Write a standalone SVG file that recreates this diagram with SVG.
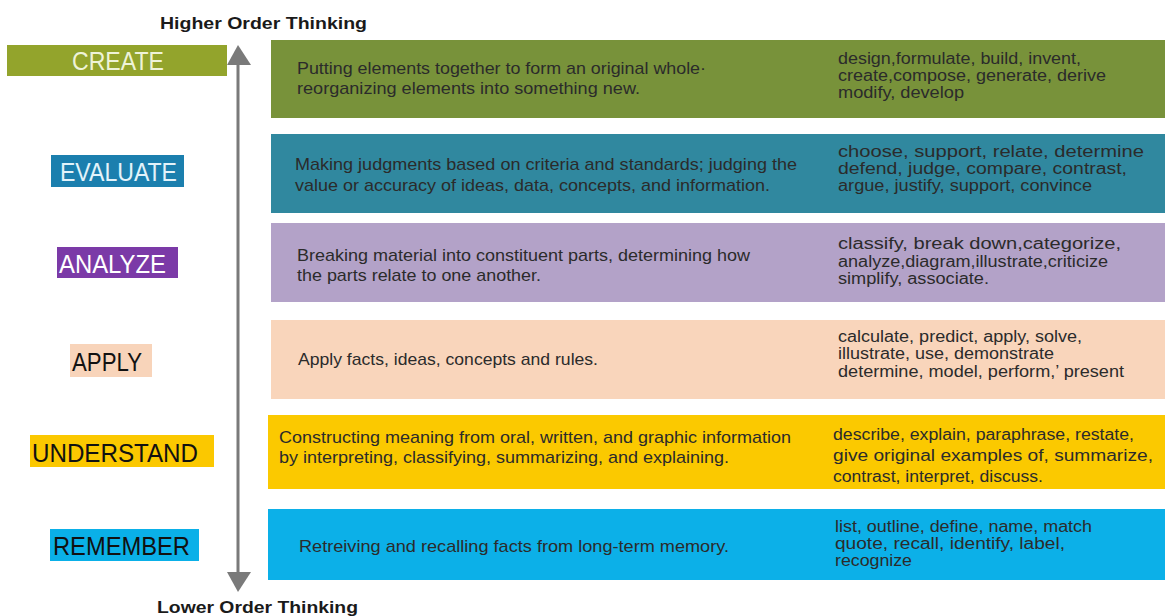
<svg xmlns="http://www.w3.org/2000/svg" width="1165" height="616" viewBox="0 0 1165 616">
<style>
.t{font-family:"Liberation Sans",Arial,sans-serif;font-size:17px;fill:#2b2b2b}
.r{font-family:"Liberation Sans",Arial,sans-serif;font-size:16px;fill:#2b2b2b}
.lab{font-family:"Liberation Sans",Arial,sans-serif;font-size:26px}
.hd{font-family:"Liberation Sans",Arial,sans-serif;font-size:16px;font-weight:bold;fill:#1a1a1a}
</style>
<rect width="1165" height="616" fill="#ffffff"/>
<text class="hd" x="160" y="29" textLength="207" lengthAdjust="spacingAndGlyphs">Higher Order Thinking</text>
<text class="hd" x="157" y="613" textLength="201" lengthAdjust="spacingAndGlyphs">Lower Order Thinking</text>
<g id="connectors">
<line x1="238" y1="62" x2="238" y2="575" stroke="#7a7a7a" stroke-width="3"/>
<polygon points="238,45 251,65 227,65" fill="#7a7a7a"/>
<polygon points="238,592 251,572 227,572" fill="#7a7a7a"/>
</g>
<g id="create">
<rect x="7" y="45" width="220" height="31" fill="#93a42c"/>
<text class="lab" x="72" y="70" fill="#eef3d8" textLength="92" lengthAdjust="spacingAndGlyphs">CREATE</text>
<rect x="271" y="40" width="894" height="78" fill="#78923a"/>
<text class="t" x="297" y="74" textLength="409" lengthAdjust="spacingAndGlyphs">Putting elements together to form an original whole·</text>
<text class="t" x="297" y="94" textLength="343" lengthAdjust="spacingAndGlyphs">reorganizing elements into something new.</text>
<text class="r" x="838" y="64" textLength="243" lengthAdjust="spacingAndGlyphs">design,formulate, build, invent,</text>
<text class="r" x="838" y="81" textLength="268" lengthAdjust="spacingAndGlyphs">create,compose, generate, derive</text>
<text class="r" x="838" y="98" textLength="126" lengthAdjust="spacingAndGlyphs">modify, develop</text>
</g>
<g id="evaluate">
<rect x="51" y="155" width="133" height="32" fill="#1b7fae"/>
<text class="lab" x="60" y="181" fill="#e3f3fa" textLength="117" lengthAdjust="spacingAndGlyphs">EVALUATE</text>
<rect x="271" y="134" width="894" height="79" fill="#30889f"/>
<text class="t" x="295" y="170" fill="#1a1a1a" textLength="502" lengthAdjust="spacingAndGlyphs">Making judgments based on criteria and standards; judging the</text>
<text class="t" x="295" y="191" fill="#1a1a1a" textLength="475" lengthAdjust="spacingAndGlyphs">value or accuracy of ideas, data, concepts, and information.</text>
<text class="r" x="838" y="157" textLength="306" lengthAdjust="spacingAndGlyphs">choose,  support,  relate,  determine</text>
<text class="r" x="838" y="174" textLength="289" lengthAdjust="spacingAndGlyphs">defend,  judge,  compare,  contrast,</text>
<text class="r" x="838" y="191" textLength="254" lengthAdjust="spacingAndGlyphs">argue, justify, support, convince</text>
</g>
<g id="analyze">
<rect x="57" y="247" width="121" height="31" fill="#7b3aa7"/>
<text class="lab" x="59" y="273" fill="#ffffff" textLength="107" lengthAdjust="spacingAndGlyphs">ANALYZE</text>
<rect x="271" y="223" width="894" height="79" fill="#b3a2c8"/>
<text class="t" x="297" y="261" textLength="453" lengthAdjust="spacingAndGlyphs">Breaking material into constituent parts, determining how</text>
<text class="t" x="297" y="281" textLength="244" lengthAdjust="spacingAndGlyphs">the parts relate to one another.</text>
<text class="r" x="838" y="249" textLength="283" lengthAdjust="spacingAndGlyphs">classify, break down,categorize,</text>
<text class="r" x="838" y="267" textLength="270" lengthAdjust="spacingAndGlyphs">analyze,diagram,illustrate,criticize</text>
<text class="r" x="838" y="284" textLength="151" lengthAdjust="spacingAndGlyphs">simplify, associate.</text>
</g>
<g id="apply">
<rect x="70" y="344" width="82" height="33" fill="#f8d4ba"/>
<text class="lab" x="72" y="371" fill="#111111" textLength="70" lengthAdjust="spacingAndGlyphs">APPLY</text>
<rect x="271" y="320" width="894" height="79" fill="#f9d5bb"/>
<text class="t" x="298" y="365" textLength="300" lengthAdjust="spacingAndGlyphs">Apply facts, ideas, concepts and rules.</text>
<text class="r" x="838" y="342" textLength="244" lengthAdjust="spacingAndGlyphs">calculate, predict, apply, solve,</text>
<text class="r" x="838" y="359" textLength="216" lengthAdjust="spacingAndGlyphs">illustrate, use, demonstrate</text>
<text class="r" x="838" y="377" textLength="286" lengthAdjust="spacingAndGlyphs">determine, model, perform,’ present</text>
</g>
<g id="understand">
<rect x="30" y="435" width="184" height="32" fill="#fbc800"/>
<text class="lab" x="32" y="462" fill="#111111" textLength="166" lengthAdjust="spacingAndGlyphs">UNDERSTAND</text>
<rect x="268" y="415" width="897" height="74" fill="#fbc900"/>
<text class="t" x="279" y="443" textLength="512" lengthAdjust="spacingAndGlyphs">Constructing meaning from oral, written, and graphic information</text>
<text class="t" x="279" y="463" textLength="450" lengthAdjust="spacingAndGlyphs">by interpreting, classifying, summarizing, and explaining.</text>
<text class="r" x="833" y="440" textLength="301" lengthAdjust="spacingAndGlyphs">describe, explain, paraphrase,  restate,</text>
<text class="r" x="833" y="461" textLength="320" lengthAdjust="spacingAndGlyphs">give original examples of, summarize,</text>
<text class="r" x="833" y="482" textLength="210" lengthAdjust="spacingAndGlyphs">contrast, interpret, discuss.</text>
</g>
<g id="remember">
<rect x="50" y="529" width="149" height="32" fill="#0ab0e8"/>
<text class="lab" x="53" y="555" fill="#111111" textLength="137" lengthAdjust="spacingAndGlyphs">REMEMBER</text>
<rect x="268" y="509" width="897" height="71" fill="#0cb0e8"/>
<text class="t" x="299" y="552" textLength="430" lengthAdjust="spacingAndGlyphs">Retreiving and recalling facts from long-term memory.</text>
<text class="r" x="835" y="532" textLength="257" lengthAdjust="spacingAndGlyphs">list, outline, define, name, match</text>
<text class="r" x="835" y="549" textLength="230" lengthAdjust="spacingAndGlyphs">quote, recall, identify, label,</text>
<text class="r" x="835" y="566" textLength="77" lengthAdjust="spacingAndGlyphs">recognize</text>
</g>
</svg>
